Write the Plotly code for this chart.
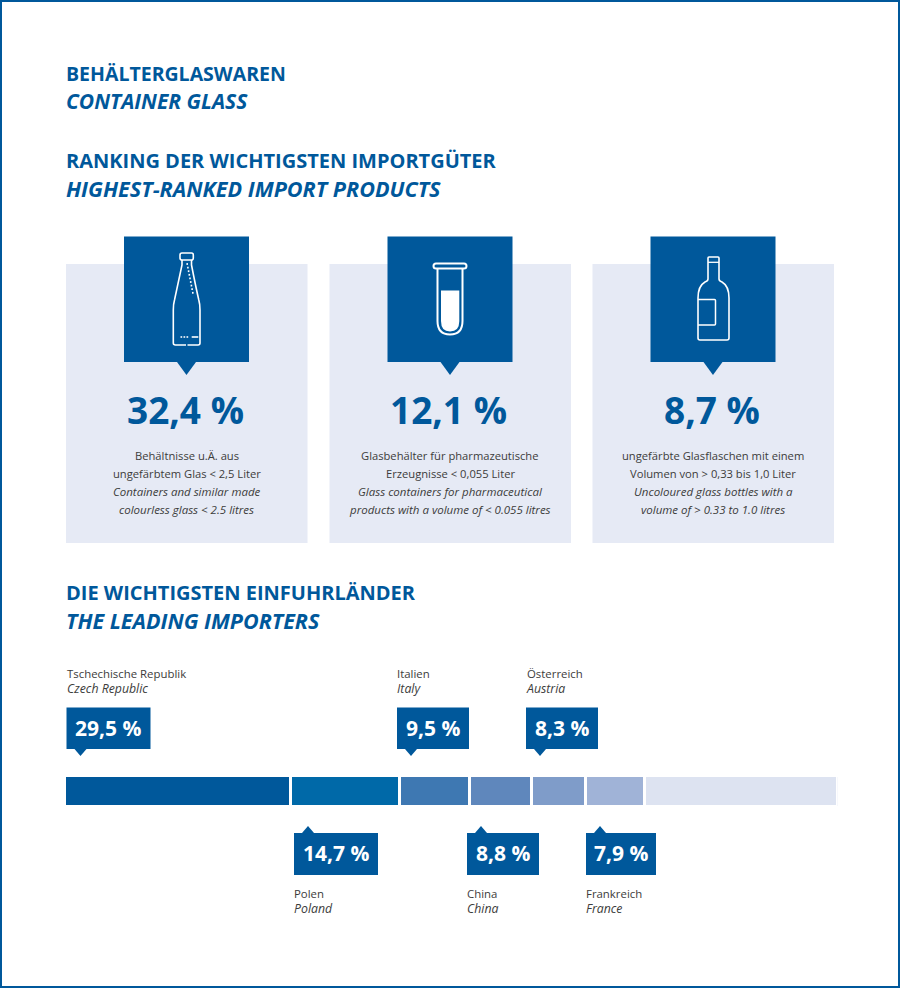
import plotly.graph_objects as go

W = 900
H = 988

BLUE = '#00589b'
PANEL = '#e6eaf5'
TEXT = '#3c3c3b'
FONT = 'Open Sans'

# Printed shares of the leading importers
countries_de = ['Tschechische Republik', 'Polen', 'Italien', 'China', 'Österreich', 'Frankreich']
countries_en = ['Czech Republic', 'Poland', 'Italy', 'China', 'Austria', 'France']
share_labels = ['29,5 %', '14,7 %', '9,5 %', '8,8 %', '8,3 %', '7,9 %']

# Segment lengths as the source draws them (out of 100), they are not strictly to scale with the labels
segment_names = countries_en + ['Other']
segment_lengths = [29.2, 14.2, 9.0, 8.05, 7.0, 7.66, 24.89]
segment_colors = ['#00589b', '#0069a8', '#3e78b2', '#5f87bc', '#7f9cc9', '#a0b3d7', '#dde3f1']

# Ranking cards
rank_values = ['32,4 %', '12,1 %', '8,7 %']
rank_text = [
    ['Behältnisse u.Ä. aus', 'ungefärbtem Glas < 2,5 Liter',
     '<i>Containers and similar made</i>', '<i>colourless glass < 2.5 litres</i>'],
    ['Glasbehälter für pharmazeutische', 'Erzeugnisse < 0,055 Liter',
     '<i>Glass containers for pharmaceutical</i>', '<i>products with a volume of < 0.055 litres</i>'],
    ['ungefärbte Glasflaschen mit einem', 'Volumen von > 0,33 bis 1,0 Liter',
     '<i>Uncoloured glass bottles with a</i>', '<i>volume of > 0.33 to 1.0 litres</i>'],
]


def px(x):
    return x / W


def py(y):
    return 1 - y / H


def svg(d):
    # svg path written in pixels -> paper coords
    out = []
    is_x = True
    for tok in d.split():
        if tok.isalpha():
            out.append(tok)
        elif is_x:
            out.append(f'{px(float(tok)):.5f}')
            is_x = False
        else:
            out.append(f'{py(float(tok)):.5f}')
            is_x = True
    return ' '.join(out)


shapes = []
annotations = []


def rect(x0, y0, x1, y1, color, layer='below'):
    shapes.append(dict(type='rect', xref='paper', yref='paper', x0=px(x0), x1=px(x1),
                       y0=py(y1), y1=py(y0), fillcolor=color, line_width=0, layer=layer))


def draw(d, fill=None, line=None, width=1.5):
    shapes.append(dict(type='path', xref='paper', yref='paper', path=svg(d),
                       fillcolor=fill if fill else 'rgba(0,0,0,0)',
                       line=dict(color=line if line else 'rgba(0,0,0,0)', width=width if line else 0)))


def text(x, y, s, size, color=TEXT, bold=False, anchor='left'):
    # annotations carry about 2px of padding
    ax = x - 2 if anchor == 'left' else x
    annotations.append(dict(xref='paper', yref='paper', x=px(ax), y=py(y), text=f'<b>{s}</b>' if bold else s,
                            showarrow=False, xanchor=anchor, yanchor='middle', align=anchor,
                            font=dict(family=FONT, size=size, color=color)))


# Frame
shapes.append(dict(type='rect', xref='paper', yref='paper', x0=px(1), x1=px(899), y0=py(987), y1=py(1),
                   line=dict(color=BLUE, width=2), fillcolor='rgba(0,0,0,0)', layer='below'))

# Headings
headings = [(73.5, 'BEHÄLTERGLASWAREN', 19.5), (101.5, '<i>CONTAINER GLASS</i>', 21),
            (160.5, 'RANKING DER WICHTIGSTEN IMPORTGÜTER', 20), (188, '<i>HIGHEST-RANKED IMPORT PRODUCTS</i>', 21.6),
            (592.5, 'DIE WICHTIGSTEN EINFUHRLÄNDER', 20), (620.5, '<i>THE LEADING IMPORTERS</i>', 21.5)]
for y, s, size in headings:
    text(66, y, s, size, BLUE, bold=True)

# Cards
card_lefts = [66, 329.5, 592.5]
for i, left in enumerate(card_lefts):
    rect(left, 264, left + 241.5, 543, PANEL)
    cx = left + 120.5
    rect(cx - 62.5, 236.5, cx + 62.5, 362, BLUE)
    draw(f'M {cx - 9.5} 362 L {cx + 9.5} 362 L {cx} 375 Z', fill=BLUE)
    text(cx - 1.5, 409, rank_values[i], 37, BLUE, bold=True, anchor='center')
    for j, line in enumerate(rank_text[i]):
        text(cx, 455 + j * 18.3, line, 11.2 if j < 2 else 11.5, TEXT, anchor='center')

# Icon 1: clear bottle
draw('M 182 260 L 182 265 Q 177 288 174.5 300 Q 173.3 304 173.3 310 L 173.3 343 Q 173.3 345 175.5 345 L 186 345 '
     'M 187.5 345 L 198 345 Q 200 345 200 343 L 200 310 Q 200 304 198.8 300 Q 196 288 191.5 265 L 191.5 260',
     line='white', width=1.6)
draw('M 182 253 L 191.5 253 Q 193.3 253 193.3 255 L 193.3 258 Q 193.3 260 191.5 260 L 182 260 Q 180 260 180 258 '
     'L 180 255 Q 180 253 182 253 Z', line='white', width=1.6)
for k in range(9):
    draw(f'M {186.4 + k * 0.7} {264 + k * 3.6} L {188 + k * 0.7} {264 + k * 3.6}', line='white', width=1.8)
for k in range(3):
    draw(f'M {180.5 + k * 3} 337 L {182.2 + k * 3} 337', line='white', width=1.6)
draw('M 191.7 337 L 198.3 337', line='white', width=1.6)

# Icon 2: test tube
draw('M 436 263.5 L 464 263.5 Q 466.5 263.5 466.5 266 Q 466.5 268.5 464 268.5 L 436 268.5 '
     'Q 433.5 268.5 433.5 266 Q 433.5 263.5 436 263.5 Z', line='white', width=2)
draw('M 437.5 269 L 437.5 321 Q 437.5 334.5 450 334.5 Q 462.5 334.5 462.5 321 L 462.5 269', line='white', width=2)
draw('M 441 290.5 L 459.3 290.5 L 459.3 321 Q 459.3 331.5 450 331.5 Q 441 331.5 441 321 Z', fill='white')

# Icon 3: wine bottle
draw('M 709 257 L 718 257 Q 719 257 719 258 L 719 279 Q 719 281 722 282 Q 729 286 729 298 L 729 338 Q 729 340 727 340 '
     'L 700 340 Q 698 340 698 338 L 698 298 Q 698 286 705 282 Q 708 281 708 279 L 708 258 Q 708 257 709 257 Z',
     line='white', width=1.6)
draw('M 708 262.3 L 719 262.3', line='white', width=1.3)
draw('M 698 299.5 L 714.5 299.5 Q 715.5 299.5 715.5 300.5 L 715.5 324 Q 715.5 325 714.5 325 L 698 325',
     line='white', width=1.5)

# Callouts for the importers: (left, width, country index)
callouts_top = [(66.5, 84, 0), (397, 72, 2), (526, 72, 4)]
callouts_bottom = [(294, 84, 1), (467, 72, 3), (586, 70, 5)]


def country_label(left, y, idx):
    s = f"{countries_de[idx]}<br><span style='font-size:12.3px'><i>{countries_en[idx]}</i></span>"
    text(left, y, s, 11.4)


for left, w, idx in callouts_top:
    rect(left, 707.5, left + w, 749, BLUE)
    draw(f'M {left + 8} 749 L {left + 20} 749 L {left + 14} 756 Z', fill=BLUE)
    text(left + w / 2 - 0.5, 728, share_labels[idx], 21, 'white', bold=True, anchor='center')
    country_label(left, 681, idx)
for left, w, idx in callouts_bottom:
    rect(left, 833, left + w, 875, BLUE)
    draw(f'M {left + 8} 833 L {left + 20} 833 L {left + 14} 826 Z', fill=BLUE)
    text(left + w / 2 - 0.5, 853, share_labels[idx], 21, 'white', bold=True, anchor='center')
    country_label(left, 901.5, idx)

# white strip above the bar, hides a faint line the bar outline leaves along its top edge
rect(60, 772, 842, 777, 'white', layer='above')

fig = go.Figure()
for name, length, color in zip(segment_names, segment_lengths, segment_colors):
    fig.add_trace(go.Bar(y=['share'], x=[length], orientation='h', name=name, cliponaxis=False,
                         marker=dict(color=color, line=dict(color='white', width=3))))

# White bar outline eats 1.5px at every edge, so the plot area is 1.5px bigger than the visible bar
fig.update_layout(
    width=W, height=H,
    margin=dict(l=0, r=0, t=0, b=0),
    barmode='stack', bargap=0,
    showlegend=False,
    paper_bgcolor='white', plot_bgcolor='white',
    xaxis=dict(domain=[px(65), px(837.5)], range=[0, 100], visible=False),
    yaxis=dict(domain=[py(806.5), py(775.5)], visible=False),
    shapes=shapes,
    annotations=annotations,
)

fig.write_html('out.html', config=dict(displayModeBar=False), post_script="document.body.style.margin='0';")
